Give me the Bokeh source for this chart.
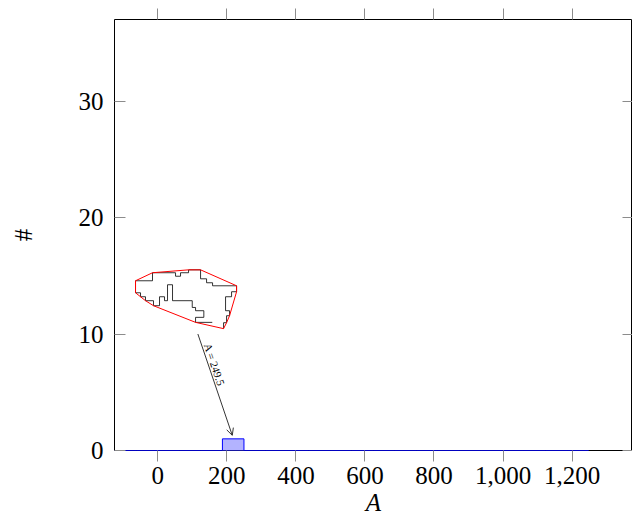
from bokeh.plotting import figure
from bokeh.models import (Range1d, LinearAxis, FixedTicker, NumeralTickFormatter, Arrow,
                          OpenHead, ColumnDataSource)
from bokeh.core.properties import value
from bokeh.embed import file_html
from bokeh.resources import INLINE

# ---- data ----
bin_edges = [-124.9, -62.5, -0.1, 62.3, 124.7, 187.1, 249.5, 311.9, 374.3, 436.7, 499.1,
             561.5, 623.9, 686.3, 748.7, 811.1, 873.5, 935.9, 998.3, 1060.7, 1123.1,
             1185.5, 1247.9]
counts = [0, 0, 0, 0, 0, 1, 0, 0, 0, 0, 0, 0, 0, 0, 0, 0, 0, 0, 0, 0, 0, 0]

x_ticks = [0, 200, 400, 600, 800, 1000, 1200]
y_ticks = [0, 10, 20, 30]

# random-walk inset (data units)
walk_x = [157.7, 109.3, 109.3, 133.3, 133.3, 109.3, 109.3, 99.7, 99.7, 42.6, 42.6, 28.1,
          28.1, 19.4, 19.4, 4.9, 4.9, -12.5, -12.5, -35.7, -35.7, -50.1, -50.1, -64.6,
          -64.6, -15.4, -15.4, 51.3, 51.3, 65.8, 65.8, 89.0, 89.0, 123.8, 123.8, 141.2,
          141.2, 158.6, 158.6, 228.1, 228.1, 213.6, 213.6, 196.2, 196.2, 207.8, 207.8,
          199.1, 199.1, 190.4, 190.4]
walk_y = [11.00, 11.00, 11.43, 11.43, 12.00, 12.00, 12.28, 12.28, 12.86, 12.86, 14.23,
          14.23, 12.86, 12.86, 13.20, 13.20, 12.43, 12.43, 12.86, 12.86, 13.20, 13.20,
          13.54, 13.54, 14.57, 14.57, 15.26, 15.26, 14.96, 14.96, 15.26, 15.26, 15.51,
          15.51, 14.74, 14.74, 14.40, 14.40, 14.14, 14.14, 13.63, 13.63, 13.20, 13.20,
          12.00, 12.00, 11.57, 11.57, 10.97, 10.97, 10.46]

arrow_start = (116.0, 10.0)
arrow_end = (215.7, 1.3)
arrow_label = "A = 249.5"
arrow_label_pos = (164.3, 7.37)


def convex_hull(xs, ys):
    pts = sorted(set(zip(xs, ys)))

    def cross(o, a, b):
        return (a[0] - o[0]) * (b[1] - o[1]) - (a[1] - o[1]) * (b[0] - o[0])

    lower, upper = [], []
    for pt in pts:
        while len(lower) >= 2 and cross(lower[-2], lower[-1], pt) <= 0:
            lower.pop()
        lower.append(pt)
    for pt in reversed(pts):
        while len(upper) >= 2 and cross(upper[-2], upper[-1], pt) <= 0:
            upper.pop()
        upper.append(pt)
    hull = lower[:-1] + upper[:-1]
    hull.append(hull[0])
    return [h[0] for h in hull], [h[1] for h in hull]


hull_x, hull_y = convex_hull(walk_x, walk_y)

FONT = "'Liberation Serif', 'DejaVu Serif', serif"

p = figure(width=632, height=518, x_range=Range1d(-125.5, 1375), y_range=Range1d(0, 37),
           output_backend="svg", toolbar_location=None,
           min_border_left=114, min_border_right=0, min_border_top=19, min_border_bottom=68)
p.xgrid.grid_line_color = None
p.ygrid.grid_line_color = None
p.outline_line_color = "black"
p.outline_line_width = 1
p.background_fill_color = "white"

tick_col = "#8c8c8c"

# bottom axis
xa = p.xaxis[0]
xa.ticker = FixedTicker(ticks=x_ticks)
xa.formatter = NumeralTickFormatter(format="0,0")
xa.major_tick_out = 11
xa.major_tick_in = 0
xa.minor_tick_line_color = None
xa.major_tick_line_color = tick_col
xa.axis_line_color = None
xa.major_label_text_font = FONT
xa.major_label_text_font_size = "25px"
xa.major_label_text_color = "black"
xa.major_label_standoff = 5
xa.axis_label = "A"
xa.axis_label_text_font = FONT
xa.axis_label_text_font_style = "italic"
xa.axis_label_text_font_size = "25px"
xa.axis_label_text_color = "black"
xa.axis_label_standoff = 2

# left axis
ya = p.yaxis[0]
ya.ticker = FixedTicker(ticks=y_ticks)
ya.major_tick_out = 0
ya.major_tick_in = 11
ya.minor_tick_line_color = None
ya.major_tick_line_color = tick_col
ya.axis_line_color = None
ya.major_label_text_font = FONT
ya.major_label_text_font_size = "25px"
ya.major_label_text_color = "black"
ya.major_label_standoff = 11
ya.axis_label = "#"
ya.axis_label_text_font = FONT
ya.axis_label_text_font_style = "normal"
ya.axis_label_text_font_size = "25px"
ya.axis_label_text_color = "black"
ya.axis_label_standoff = 39

# top axis (ticks only)
top = LinearAxis(ticker=FixedTicker(ticks=x_ticks), major_tick_out=11, major_tick_in=0,
                 minor_tick_line_color=None, major_tick_line_color=tick_col,
                 axis_line_color=None, major_label_overrides={t: "" for t in x_ticks},
                 major_label_standoff=0)
p.add_layout(top, "above")

# right axis (ticks only)
right = LinearAxis(ticker=FixedTicker(ticks=y_ticks), major_tick_out=0, major_tick_in=10,
                   minor_tick_line_color=None, major_tick_line_color=tick_col,
                   axis_line_color=None, major_label_overrides={t: "" for t in y_ticks},
                   major_label_standoff=0)
p.add_layout(right, "right")

# histogram
hist = ColumnDataSource(dict(left=bin_edges[:-1], right=bin_edges[1:], top=counts,
                             bottom=[0] * len(counts)))
p.quad(left="left", right="right", top="top", bottom="bottom", source=hist,
       fill_color="#b3b3ff", line_color="#0000ff", line_width=1)

# walk + hull
p.line(walk_x, walk_y, line_color="black", line_width=0.8)
p.line(hull_x, hull_y, line_color="red", line_width=1)

# arrow and label
p.add_layout(Arrow(end=OpenHead(size=7, line_width=0.8, line_color="black"),
                   x_start=arrow_start[0], y_start=arrow_start[1],
                   x_end=arrow_end[0], y_end=arrow_end[1],
                   line_width=0.8, line_color="black"))
p.text(x=[arrow_label_pos[0]], y=[arrow_label_pos[1]], text=[arrow_label],
       angle=-71.3, angle_units="deg", text_font=value(FONT), text_font_size="11px",
       text_align="center", text_baseline="middle", text_color="black")

open("out.html", "w").write(file_html(p, INLINE))
